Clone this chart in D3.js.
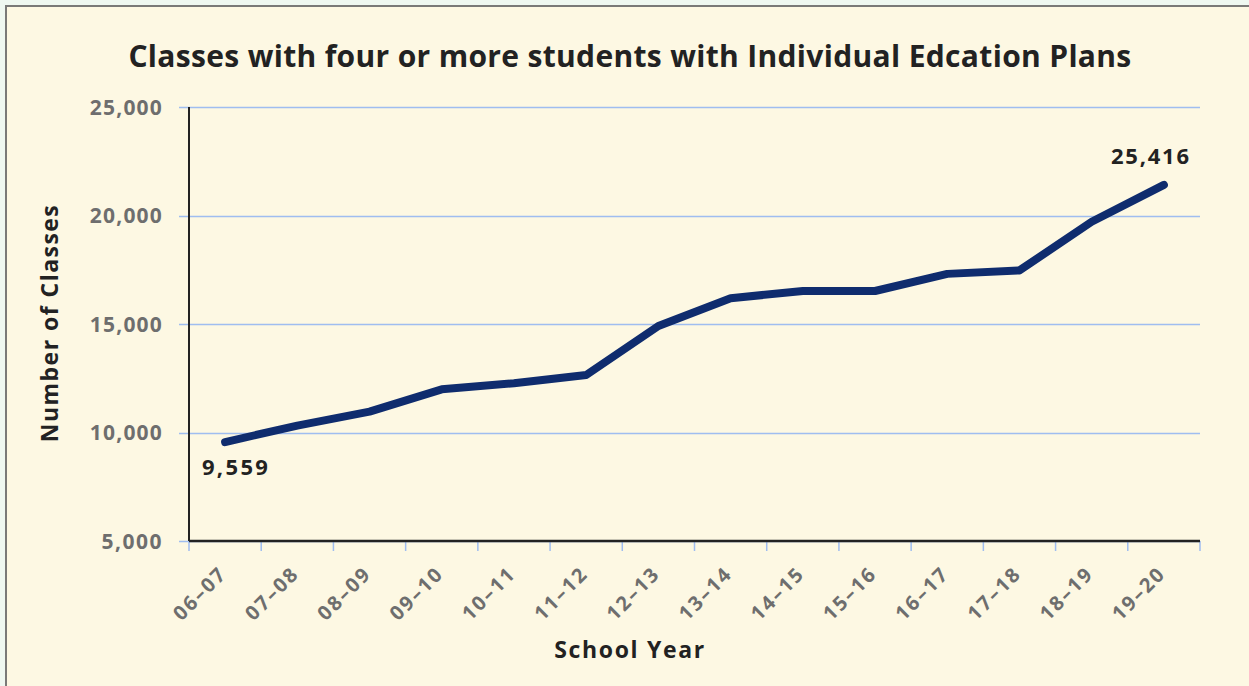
<!DOCTYPE html>
<html>
<head>
<meta charset="utf-8">
<script src="https://cdn.jsdelivr.net/npm/d3@7/dist/d3.min.js"></script>
<style>
  html, body { margin: 0; padding: 0; background: #eff8f1; }
  svg { display: block; }
  text { font-family: "Open Sans", "Lato", "Noto Sans", sans-serif; }
</style>
</head>
<body>
<svg id="chart" width="1249" height="686"></svg>
<script>
const categories = ["06–07","07–08","08–09","09–10","10–11","11–12","12–13","13–14","14–15","15–16","16–17","17–18","18–19","19–20"];
const classes = [9559, 10320, 10960, 11990, 12270, 12650, 14910, 16190, 16520, 16520, 17310, 17470, 19710, 21410];
const yTicks = [5000, 10000, 15000, 20000, 25000];
const annotations = [
  { index: 0, text: "9,559" },
  { index: 13, text: "25,416" }
];
const title = "Classes with four or more students with Individual Edcation Plans";
const xTitle = "School Year";
const yTitle = "Number of Classes";

const svg = d3.select("#chart");
const W = 1249, H = 686;
const m = { left: 189, right: 1200, top: 107, bottom: 541 };

function fit(sel, target) {
  sel.each(function () {
    const n = this.textContent.length;
    const w = this.getComputedTextLength();
    const ls = (target - w) / Math.max(1, n - 1);
    d3.select(this).attr("letter-spacing", ls.toFixed(2));
  });
}

// frame
svg.append("rect").attr("x", 0).attr("y", 0).attr("width", W).attr("height", H).attr("fill", "#eff8f1");
svg.append("rect").attr("x", 6).attr("y", 6).attr("width", W + 10).attr("height", H + 10)
  .attr("fill", "#fdf8e3").attr("stroke", "#7a7a78").attr("stroke-width", 2);

const x = d3.scaleBand().domain(categories).range([m.left, m.right]).paddingInner(0).paddingOuter(0);
const y = d3.scaleLinear().domain([5000, 25000]).range([m.bottom, m.top]);

// gridlines
svg.append("g").selectAll("line").data(yTicks).join("line")
  .attr("x1", m.left - 10).attr("x2", m.right)
  .attr("y1", d => Math.round(y(d)) + 0.5).attr("y2", d => Math.round(y(d)) + 0.5)
  .attr("stroke", "#9fbdf0").attr("stroke-width", 1.3);

// y tick labels
svg.append("g").selectAll("text").data(yTicks).join("text")
  .attr("x", m.left - 26).attr("y", d => y(d))
  .attr("dy", "0.36em")
  .attr("text-anchor", "end")
  .attr("fill", "#6e6e6e").attr("font-weight", 700).attr("font-size", 21)
  .text(d => d3.format(",")(d))
  .call(s => s.each(function (d) { fit(d3.select(this), d >= 10000 ? 72 : 60); }));

// x ticks at band boundaries
const bounds = categories.map(c => x(c)).concat([x(categories[categories.length - 1]) + x.bandwidth()]);
svg.append("g").selectAll("line").data(bounds).join("line")
  .attr("x1", d => d).attr("x2", d => d)
  .attr("y1", m.bottom).attr("y2", m.bottom + 10)
  .attr("stroke", "#9fbdf0").attr("stroke-width", 1.5);

// axes lines
svg.append("line").attr("x1", m.left).attr("x2", m.left).attr("y1", m.top).attr("y2", m.bottom)
  .attr("stroke", "#222").attr("stroke-width", 2);
svg.append("line").attr("x1", m.left).attr("x2", m.right).attr("y1", m.bottom).attr("y2", m.bottom)
  .attr("stroke", "#222").attr("stroke-width", 2.5);

// x tick labels
svg.append("g").selectAll("text").data(categories).join("text")
  .attr("transform", d => `translate(${x(d) + x.bandwidth() / 2 + 3},${m.bottom + 34}) rotate(-45)`)
  .attr("text-anchor", "end")
  .attr("fill", "#6e6e6e").attr("font-weight", 700).attr("font-size", 20)
  .text(d => d)
  .call(s => fit(s, 64));

// line
const line = d3.line().x((d, i) => x(categories[i]) + x.bandwidth() / 2).y(d => y(d));
svg.append("path").datum(classes).attr("d", line)
  .attr("fill", "none").attr("stroke", "#0f2c6e").attr("stroke-width", 8)
  .attr("stroke-linecap", "round").attr("stroke-linejoin", "round");

// annotations
const ann = svg.append("g");
ann.append("text")
  .attr("x", x(categories[annotations[0].index]) + x.bandwidth() / 2 + 11)
  .attr("y", y(classes[annotations[0].index]) + 33)
  .attr("text-anchor", "middle").attr("fill", "#222").attr("font-weight", 700).attr("font-size", 22)
  .text(annotations[0].text).call(s => fit(s, 66));
ann.append("text")
  .attr("x", x(categories[annotations[1].index]) + x.bandwidth() / 2 - 13)
  .attr("y", y(classes[annotations[1].index]) - 21)
  .attr("text-anchor", "middle").attr("fill", "#222").attr("font-weight", 700).attr("font-size", 22)
  .text(annotations[1].text).call(s => fit(s, 78));

// titles
svg.append("text").attr("x", 630).attr("y", 67).attr("text-anchor", "middle")
  .attr("fill", "#222").attr("font-weight", 700).attr("font-size", 30).text(title)
  .call(s => fit(s, 1003));
svg.append("text").attr("x", 630).attr("y", 658).attr("text-anchor", "middle")
  .attr("fill", "#222").attr("font-weight", 700).attr("font-size", 23).text(xTitle)
  .call(s => fit(s, 150));
svg.append("text").attr("transform", "translate(58,323) rotate(-90)").attr("text-anchor", "middle")
  .attr("fill", "#222").attr("font-weight", 700).attr("font-size", 23).text(yTitle)
  .call(s => fit(s, 237));
</script>
</body>
</html>
